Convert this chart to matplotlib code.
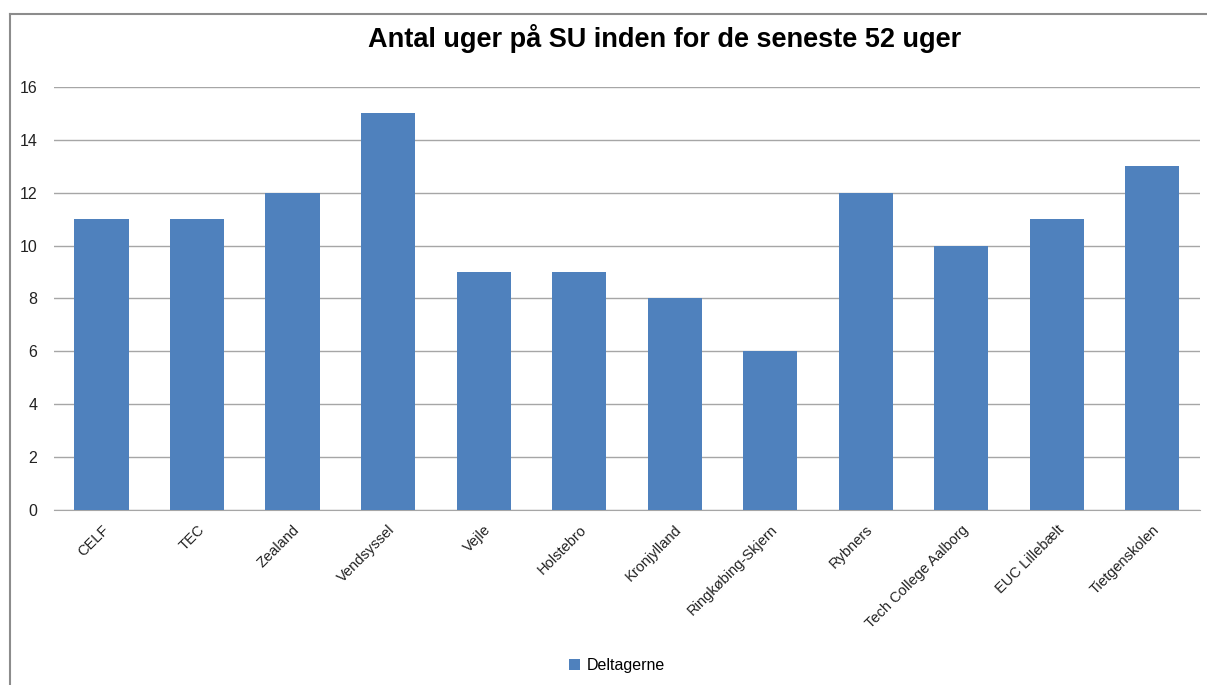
import matplotlib.pyplot as plt
from matplotlib.lines import Line2D
from matplotlib.patches import Patch

schools = [
    "CELF", "TEC", "Zealand", "Vendsyssel", "Vejle", "Holstebro",
    "Kronjylland", "Ringkøbing-Skjern", "Rybners", "Tech College Aalborg",
    "EUC Lillebælt", "Tietgenskolen",
]
weeks = [11, 11, 12, 15, 9, 9, 8, 6, 12, 10, 11, 13]
yticks = [0, 2, 4, 6, 8, 10, 12, 14, 16]

plt.rcParams["font.family"] = ["Liberation Sans", "DejaVu Sans"]

fig = plt.figure(figsize=(12.07, 6.85), dpi=100)
ax = fig.add_axes([0.0447, 0.2555, 0.9495, 0.6175])

bar_color = "#4F81BD"
ax.bar(range(len(schools)), weeks, width=0.57, color=bar_color, zorder=3)

ax.set_xlim(-0.5, len(schools) - 0.5)
ax.set_ylim(0, 16)
ax.set_yticks(yticks)
ax.set_yticklabels([str(v) for v in yticks], fontsize=11.5, color="#222222")
ax.set_xticks(range(len(schools)))
ax.set_xticklabels(schools, rotation=45, ha="right", va="top",
                   rotation_mode="anchor", fontsize=10.5, color="#222222")
ax.tick_params(axis="x", length=0, pad=9)
ax.tick_params(axis="y", length=0, pad=12)
ax.grid(axis="y", color="#A6A6A6", linewidth=1, zorder=0)
for side in ["left", "right", "top"]:
    ax.spines[side].set_visible(False)
ax.spines["bottom"].set_color("#A6A6A6")

fig.text(0.551, 0.944, "Antal uger på SU inden for de seneste 52 uger",
         ha="center", va="center", fontsize=19.5, fontweight="bold")

handle = Patch(facecolor=bar_color, edgecolor="none")
fig.legend([handle], ["Deltagerne"], loc="center", bbox_to_anchor=(0.511, 0.028),
           frameon=False, fontsize=11.5, handlelength=0.7, handleheight=0.7,
           handletextpad=0.4)

# outer chart frame
fig.add_artist(Line2D([0.0085, 0.0085], [0.0, 0.98], color="#8C8C8C", linewidth=1.5))
fig.add_artist(Line2D([0.0085, 1.0], [0.98, 0.98], color="#8C8C8C", linewidth=1.5))

fig.savefig("out.png", dpi=100)
